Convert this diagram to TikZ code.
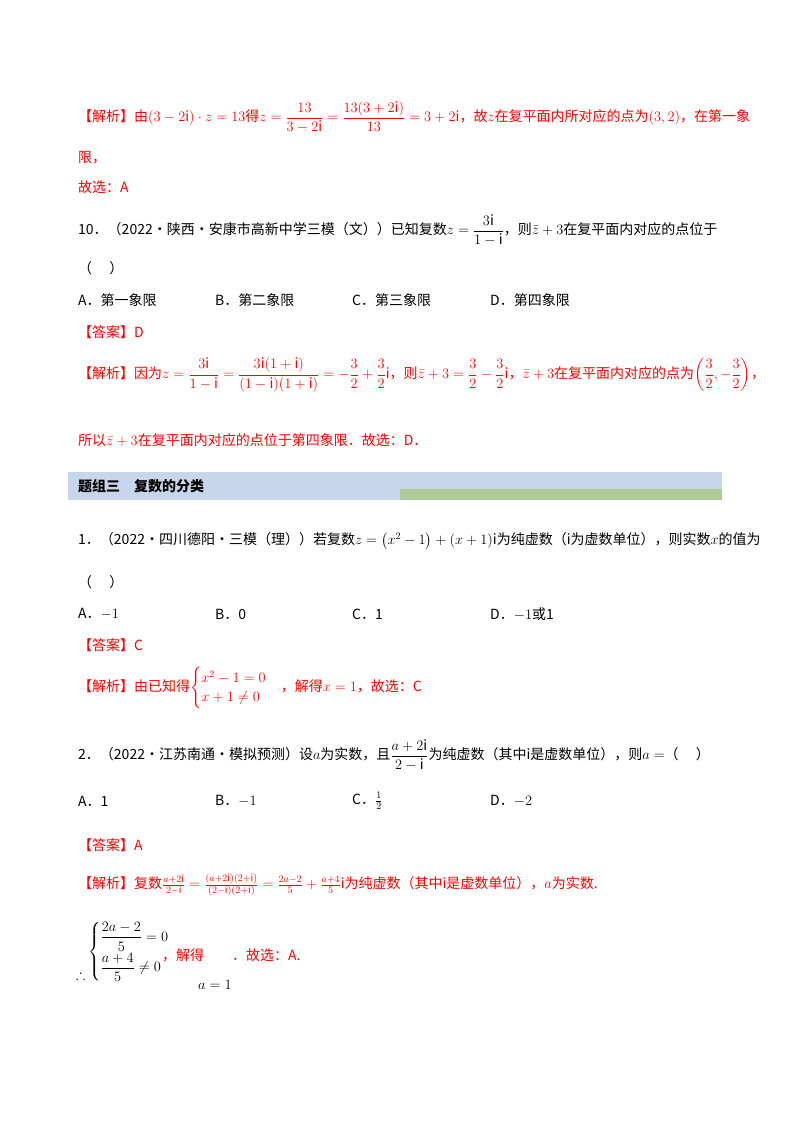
\documentclass[tikz,border=0pt]{standalone}
\usepackage{amsmath,amssymb}
\usepackage{fontspec}
\setmainfont{Noto Sans CJK SC}
\definecolor{rd}{RGB}{255,0,0}
\definecolor{band}{RGB}{200,214,236}
\definecolor{gband}{RGB}{176,204,150}
\begin{document}
\begin{tikzpicture}[x=1pt,y=-1pt,
  t/.style={anchor=west,inner sep=0pt,font=\fontsize{14}{16}\selectfont},
  r/.style={t,text=rd}]
\useasboundingbox (0,0) rectangle (800,1132);
\node[r] (l1) at (78,117) {【解析】由$(3-2\mathrm{i})\cdot z=13$得$z=\dfrac{13}{3-2\mathrm{i}}=\dfrac{13(3+2\mathrm{i})}{13}=3+2\mathrm{i}$，故$z$在复平面内所对应的点为$(3,2)$，在第一象};
\node[r] (l2) at (78,158) {限，};
\node[r] (l3) at (78,187) {故选：A};
\node[t] (q10) at (78,230) {10．（2022·陕西·安康市高新中学三模（文））已知复数$z=\dfrac{3\mathrm{i}}{1-\mathrm{i}}$，则$\bar z+3$在复平面内对应的点位于};
\node[t] (q10b) at (78,268) {（\quad\ ）};
\node[t] (a10) at (78,300) {A．第一象限};
\node[t] (b10) at (215,300) {B．第二象限};
\node[t] (c10) at (352,300) {C．第三象限};
\node[t] (d10) at (490,300) {D．第四象限};
\node[r] (ans10) at (78,332) {【答案】D};
\node[r] (j10) at (78,375) {【解析】因为$z=\dfrac{3\mathrm{i}}{1-\mathrm{i}}=\dfrac{3\mathrm{i}(1+\mathrm{i})}{(1-\mathrm{i})(1+\mathrm{i})}=-\dfrac32+\dfrac32\mathrm{i}$，则$\bar z+3=\dfrac32-\dfrac32\mathrm{i}$，$\bar z+3$在复平面内对应的点为$\left(\dfrac32,-\dfrac32\right)$，};
\node[r] (j10b) at (78,440) {所以$\bar z+3$在复平面内对应的点位于第四象限．故选：D．};
\fill[band] (68,472) rectangle (722,500);
\fill[gband] (400,489) rectangle (722,500);
\node[t,font=\fontsize{14}{16}\selectfont\bfseries] (hd) at (78,486) {题组三\quad 复数的分类};
\node[t] (q1) at (78,541) {1．（2022·四川德阳·三模（理））若复数$z=\left(x^2-1\right)+(x+1)\mathrm{i}$为纯虚数（$\mathrm{i}$为虚数单位），则实数$x$的值为};
\node[t] (q1b) at (78,582) {（\quad\ ）};
\node[t] (a1) at (78,614) {A．$-1$};
\node[t] (b1) at (215,614) {B．0};
\node[t] (c1) at (352,614) {C．1};
\node[t] (d1) at (490,614) {D．$-1$或1};
\node[r] (ans1) at (78,645) {【答案】C};
\node[r] (j1) at (78,688) {【解析】由已知得$\begin{cases}x^2-1=0\\x+1\neq0\end{cases}$，解得$x=1$，故选：C};
\node[t] (q2) at (78,755) {2．（2022·江苏南通·模拟预测）设$a$为实数，且$\dfrac{a+2\mathrm{i}}{2-\mathrm{i}}$为纯虚数（其中$\mathrm{i}$是虚数单位），则$a=$（\quad\ ）};
\node[t] (a2) at (78,801) {A．1};
\node[t] (b2) at (215,801) {B．$-1$};
\node[t] (c2) at (352,801) {C．$\frac12$};
\node[t] (d2) at (490,801) {D．$-2$};
\node[r] (ans2) at (78,845) {【答案】A};
\node[r] (j2) at (78,885) {【解析】复数$\frac{a+2\mathrm{i}}{2-\mathrm{i}}=\frac{(a+2\mathrm{i})(2+\mathrm{i})}{(2-\mathrm{i})(2+\mathrm{i})}=\frac{2a-2}{5}+\frac{a+4}{5}\mathrm{i}$为纯虚数（其中$\mathrm{i}$是虚数单位），$a$为实数.};
\node[t] (th) at (76,975) {$\therefore$};
\node[t] (sys) at (88,952) {$\begin{cases}\dfrac{2a-2}{5}=0\\[6pt]\dfrac{a+4}{5}\neq0\end{cases}$};
\node[r] (sol) at (162,955) {，解得\qquad．故选：A.};
\node[t] (a1v) at (198,985) {$a=1$};
\end{tikzpicture}
\end{document}
